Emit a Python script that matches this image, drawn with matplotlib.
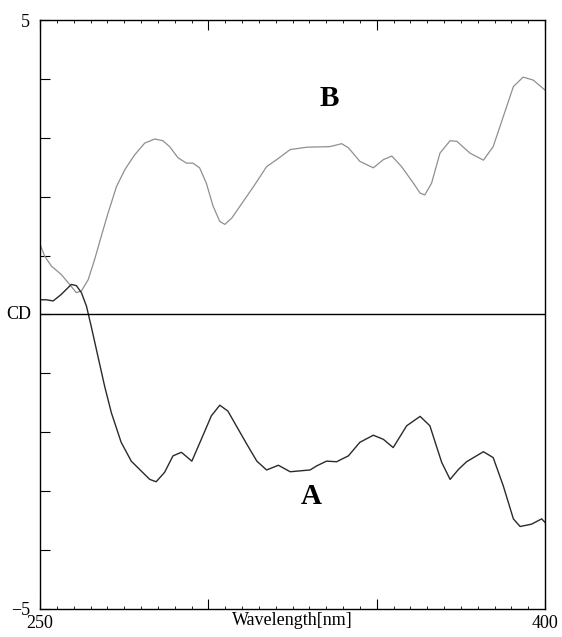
import numpy as np
import matplotlib
matplotlib.use("Agg")
import matplotlib.pyplot as plt
from matplotlib.ticker import MultipleLocator

# CD spectra (wavelength in nm, CD in arbitrary units)
wl_b = [250.0, 251.4, 253.4, 256.3, 258.8, 260.8, 262.3, 264.3, 266.2, 268.2,
        270.2, 272.7, 275.2, 278.1, 281.1, 284.1, 286.5, 288.5, 291.0, 293.5,
        295.4, 297.4, 299.4, 301.4, 303.4, 304.9, 307.0, 309.4, 313.4, 317.3,
        320.3, 324.3, 329.2, 336.1, 339.6, 341.6, 345.0, 349.0, 352.0, 354.5,
        357.4, 360.9, 362.9, 364.3, 366.3, 368.8, 371.8, 373.8, 377.7, 381.7,
        384.6, 387.6, 390.6, 393.5, 396.5, 400.0]
cd_b = [1.19, 0.99, 0.82, 0.68, 0.51, 0.37, 0.40, 0.59, 0.93, 1.33,
        1.72, 2.17, 2.46, 2.71, 2.91, 2.98, 2.95, 2.85, 2.66, 2.57,
        2.57, 2.49, 2.23, 1.84, 1.58, 1.53, 1.64, 1.84, 2.17, 2.51,
        2.63, 2.80, 2.84, 2.85, 2.90, 2.83, 2.60, 2.49, 2.63, 2.69,
        2.51, 2.23, 2.06, 2.03, 2.23, 2.74, 2.95, 2.94, 2.74, 2.62,
        2.85, 3.36, 3.87, 4.03, 3.98, 3.81]

wl_a = [250.0, 251.9, 253.9, 256.3, 259.3, 260.8, 262.3, 263.8, 265.2, 267.2,
        269.2, 271.2, 274.1, 277.1, 280.1, 282.6, 284.5, 287.0, 289.5, 292.0,
        295.1, 297.9, 300.9, 303.4, 305.8, 307.4, 311.4, 314.4, 317.3, 320.8,
        324.3, 330.2, 332.2, 335.1, 338.1, 341.6, 345.0, 349.0, 352.0, 354.9,
        358.9, 362.9, 365.8, 369.3, 371.8, 374.3, 376.7, 381.7, 384.6, 387.6,
        390.6, 392.6, 396.0, 399.0, 400.0]
cd_a = [0.25, 0.25, 0.23, 0.34, 0.51, 0.49, 0.37, 0.14, -0.20, -0.71,
        -1.22, -1.67, -2.17, -2.49, -2.66, -2.80, -2.84, -2.68, -2.40, -2.34,
        -2.49, -2.12, -1.72, -1.54, -1.64, -1.80, -2.20, -2.49, -2.64, -2.56,
        -2.67, -2.64, -2.57, -2.49, -2.50, -2.40, -2.17, -2.05, -2.12, -2.26,
        -1.89, -1.73, -1.89, -2.51, -2.80, -2.63, -2.50, -2.33, -2.43, -2.91,
        -3.47, -3.60, -3.56, -3.47, -3.53]

fig = plt.figure(figsize=(5.62, 6.37), dpi=100)
ax = fig.add_axes([0.0712, 0.044, 0.8986, 0.9246])

ax.plot(wl_b, cd_b, color="#8f8f8f", lw=0.9, solid_joinstyle="round")
ax.plot(wl_a, cd_a, color="#2a2a2a", lw=1.0, solid_joinstyle="round")
ax.axhline(0, color="black", lw=1.0)

ax.set_xlim(250, 400)
ax.set_ylim(-5, 5)

serif = "Liberation Serif"

# axis ticks: only end labels like the instrument printout
ax.set_xticks([250, 300, 350, 400])
ax.set_xticklabels(["250", "", "", "400"], fontfamily=serif, fontsize=13)
ax.xaxis.set_minor_locator(MultipleLocator(5))
ax.set_yticks([-5, -4, -3, -2, -1, 0, 1, 2, 3, 4, 5])
ax.set_yticklabels(["\u22125", "", "", "", "", "", "", "", "", "", "5"],
                   fontfamily=serif, fontsize=13)
ax.tick_params(axis="x", which="major", direction="in", length=7, width=0.8,
               pad=4, top=True)
ax.tick_params(axis="x", which="minor", direction="in", length=2, width=0.6,
               top=True)
ax.tick_params(axis="y", which="major", direction="in", length=7, width=0.8,
               pad=7, right=False)

for sp in ax.spines.values():
    sp.set_linewidth(1.0)

ax.set_xlabel("Wavelength[nm]", fontfamily=serif, fontsize=13, labelpad=-14)
ax.text(-0.018, 0.5, "CD", transform=ax.transAxes, ha="right", va="center",
        fontfamily=serif, fontsize=13)

ax.text(335.8, 3.67, "B", fontfamily=serif, fontweight="bold", fontsize=21,
        ha="center", va="center")
ax.text(330.6, -3.09, "A", fontfamily=serif, fontweight="bold", fontsize=21,
        ha="center", va="center")

fig.savefig("out.png", dpi=100)
